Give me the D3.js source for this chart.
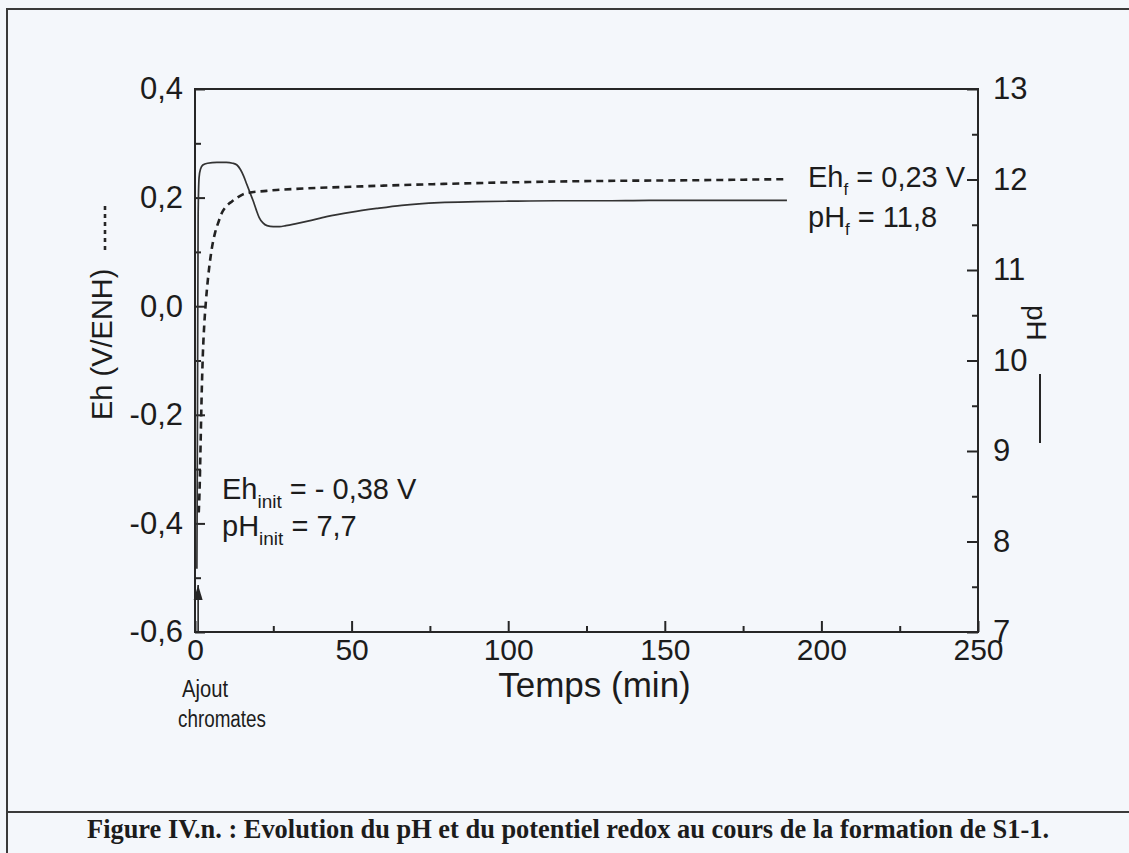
<!DOCTYPE html>
<html>
<head>
<meta charset="utf-8">
<script src="https://cdn.jsdelivr.net/npm/d3@7/dist/d3.min.js"></script>
<style>
  html, body { margin: 0; padding: 0; background: #f4f7fb; }
  svg { display: block; }
  text { font-family: "Liberation Sans", Arial, sans-serif; fill: #1c1c1c; }
</style>
</head>
<body>
<svg id="fig" width="1129" height="853"></svg>
<script>
// Redox potential Eh (V/ENH) versus time (min)
const ehTime = [1.2, 1.5, 1.8, 2.1, 2.5, 3.0, 3.5, 4.2, 5.2, 6.4, 7.5, 8.6, 10, 11.8, 13.5, 15.3, 18.2, 22, 26, 32, 40, 50, 60, 78, 100, 120, 136, 160, 175, 189];
const ehValues = [-0.38, -0.33, -0.25, -0.17, -0.09, -0.03, 0.01, 0.054, 0.10, 0.135, 0.155, 0.172, 0.184, 0.193, 0.200, 0.206, 0.210, 0.212, 0.214, 0.216, 0.218, 0.220, 0.222, 0.225, 0.228, 0.230, 0.231, 0.232, 0.233, 0.234];

// pH versus time (min)
const phTime = [0.6, 0.8, 1.0, 1.3, 1.8, 2.5, 4, 7, 10, 12, 13.4, 14.5, 15.5, 16.5, 17.5, 18.5, 19.5, 20.5, 21.7, 23, 25, 27, 29, 32, 36, 42, 50, 58, 66, 78, 90, 100, 115, 130, 145, 160, 175, 189];
const phValues = [7.7, 9.5, 11.6, 12.02, 12.12, 12.16, 12.18, 12.19, 12.19, 12.18, 12.16, 12.11, 12.04, 11.95, 11.86, 11.77, 11.67, 11.58, 11.52, 11.49, 11.48, 11.48, 11.49, 11.51, 11.54, 11.59, 11.64, 11.68, 11.715, 11.745, 11.755, 11.76, 11.765, 11.765, 11.77, 11.77, 11.77, 11.77];

// Axis ticks
const timeTicks = [0, 50, 100, 150, 200, 250];
const timeMinorTicks = [25, 75, 125, 175, 225];
const ehTicks = [-0.6, -0.4, -0.2, 0.0, 0.2, 0.4];
const ehMinorTicks = [-0.5, -0.3, -0.1, 0.1, 0.3];
const phTicks = [7, 8, 9, 10, 11, 12, 13];
const phMinorTicks = [7.5, 8.5, 9.5, 10.5, 11.5, 12.5];

// Start / end annotations
const ehInit = -0.38, phInit = 7.7, ehFinal = 0.23, phFinal = 11.8;
const additionTime = 1;

const fmt = d => d3.format(".1f")(d).replace(".", ",").replace("−", "-");
const ink = "#262626";

const svg = d3.select("#fig");

// page frame of the figure and caption separator
svg.append("path")
  .attr("d", "M7,853 V9 H1129 M7,812 H1129")
  .attr("fill", "none").attr("stroke", "#3a3a3a").attr("stroke-width", 2);

const plot = { left: 195, right: 978, top: 89, bottom: 632 };

const x = d3.scaleLinear().domain([0, 250]).range([plot.left, plot.right]);
const yEh = d3.scaleLinear().domain([-0.6, 0.4]).range([plot.bottom, plot.top]);
const yPh = d3.scaleLinear().domain([7, 13]).range([plot.bottom, plot.top]);

function styleAxis(g) {
  g.select(".domain").remove();
  g.selectAll(".tick line").attr("stroke", ink).attr("stroke-width", 2);
  g.selectAll(".tick text").attr("fill", "#1c1c1c")
    .style("font-family", '"Liberation Sans", Arial, sans-serif');
}

// bottom axis (ticks pointing up)
svg.append("g").attr("transform", `translate(0,${plot.bottom})`)
  .call(d3.axisBottom(x).tickValues(timeTicks).tickSize(-11).tickPadding(6).tickFormat(d3.format("d")))
  .call(styleAxis)
  .selectAll("text").style("font-size", "30px").attr("dy", "0.72em");
svg.append("g").attr("transform", `translate(0,${plot.bottom})`)
  .call(d3.axisBottom(x).tickValues(timeMinorTicks).tickSize(-6).tickFormat(""))
  .call(styleAxis);

// left axis: Eh
svg.append("g").attr("transform", `translate(${plot.left},0)`)
  .call(d3.axisLeft(yEh).tickValues(ehTicks).tickSize(-10).tickPadding(12).tickFormat(fmt))
  .call(styleAxis)
  .selectAll("text").style("font-size", "31px");
svg.append("g").attr("transform", `translate(${plot.left},0)`)
  .call(d3.axisLeft(yEh).tickValues(ehMinorTicks).tickSize(-6).tickFormat(""))
  .call(styleAxis);

// right axis: pH
svg.append("g").attr("transform", `translate(${plot.right},0)`)
  .call(d3.axisRight(yPh).tickValues(phTicks).tickSize(-11).tickPadding(15).tickFormat(d3.format("d")))
  .call(styleAxis)
  .selectAll("text").style("font-size", "31px");
svg.append("g").attr("transform", `translate(${plot.right},0)`)
  .call(d3.axisRight(yPh).tickValues(phMinorTicks).tickSize(-6).tickFormat(""))
  .call(styleAxis);

// plot frame
svg.append("rect")
  .attr("x", plot.left).attr("y", plot.top)
  .attr("width", plot.right - plot.left).attr("height", plot.bottom - plot.top)
  .attr("fill", "none").attr("stroke", ink).attr("stroke-width", 2);

// curves
const ehLine = d3.line().x(d => x(d[0])).y(d => yEh(d[1])).curve(d3.curveMonotoneX);
const phLine = d3.line().x(d => x(d[0])).y(d => yPh(d[1])).curve(d3.curveMonotoneX);

svg.append("path")
  .datum(d3.zip(phTime, phValues))
  .attr("d", phLine)
  .attr("fill", "none").attr("stroke", "#333").attr("stroke-width", 1.7);

svg.append("path")
  .datum(d3.zip(ehTime, ehValues))
  .attr("d", ehLine)
  .attr("fill", "none").attr("stroke", "#222").attr("stroke-width", 2.6)
  .attr("stroke-dasharray", "7,5");

// axis titles
svg.append("text")
  .attr("transform", `translate(${(plot.left + plot.right) / 2 + 8},697)`)
  .attr("text-anchor", "middle").style("font-size", "35px")
  .text("Temps (min)");

svg.append("text")
  .attr("transform", "translate(112,420) rotate(-90)")
  .attr("text-anchor", "start").style("font-size", "29px")
  .text("Eh (V/ENH)");
svg.append("line")
  .attr("x1", 105).attr("x2", 105).attr("y1", 250).attr("y2", 204)
  .attr("stroke", ink).attr("stroke-width", 2.6).attr("stroke-dasharray", "4,4");

svg.append("text")
  .attr("transform", "translate(1027,305) rotate(90)")
  .attr("text-anchor", "start").style("font-size", "28px")
  .text("pH");
svg.append("line")
  .attr("x1", 1040).attr("x2", 1040).attr("y1", 374).attr("y2", 443)
  .attr("stroke", ink).attr("stroke-width", 2);

// value annotations with subscripts
function labelWithSub(xPos, yPos, main, sub, rest, size, subSize) {
  const t = svg.append("text").attr("x", xPos).attr("y", yPos).style("font-size", size + "px");
  t.append("tspan").text(main);
  t.append("tspan").attr("dy", subSize * 0.45).style("font-size", subSize + "px").text(sub);
  t.append("tspan").attr("dy", -subSize * 0.45).text(rest);
}
labelWithSub(808, 187, "Eh", "f", " = " + d3.format(".2f")(ehFinal).replace(".", ",") + " V", 29, 17);
labelWithSub(808, 227, "pH", "f", " = " + fmt(phFinal), 29, 17);
labelWithSub(222, 499, "Eh", "init", " = - " + d3.format(".2f")(Math.abs(ehInit)).replace(".", ",") + " V", 29, 19);
labelWithSub(222, 536, "pH", "init", " = " + fmt(phInit), 29, 19);

// arrow marking the chromate addition
svg.append("defs").append("marker")
  .attr("id", "head").attr("viewBox", "0 0 10 10")
  .attr("refX", 10).attr("refY", 5)
  .attr("markerWidth", 15).attr("markerHeight", 15)
  .attr("markerUnits", "userSpaceOnUse")
  .attr("orient", "auto")
  .append("path").attr("d", "M0,2 L10,5 L0,8 Z").attr("fill", ink);
svg.append("line")
  .attr("x1", x(additionTime)).attr("x2", x(additionTime))
  .attr("y1", plot.bottom - 1).attr("y2", 585)
  .attr("stroke", ink).attr("stroke-width", 1.6)
  .attr("marker-end", "url(#head)");

svg.append("text").attr("x", 182).attr("y", 697).style("font-size", "23px")
  .attr("textLength", 46).attr("lengthAdjust", "spacingAndGlyphs").text("Ajout");
svg.append("text").attr("x", 178).attr("y", 727).style("font-size", "23px")
  .attr("textLength", 88).attr("lengthAdjust", "spacingAndGlyphs").text("chromates");

// caption
svg.append("text")
  .attr("x", 568).attr("y", 838).attr("text-anchor", "middle")
  .style("font-family", '"Liberation Serif", "Times New Roman", serif')
  .style("font-weight", "bold").style("font-size", "28px")
  .attr("textLength", 962).attr("lengthAdjust", "spacingAndGlyphs")
  .text("Figure IV.n. : Evolution du pH et du potentiel redox au cours de la formation de S1-1.");
</script>
</body>
</html>
